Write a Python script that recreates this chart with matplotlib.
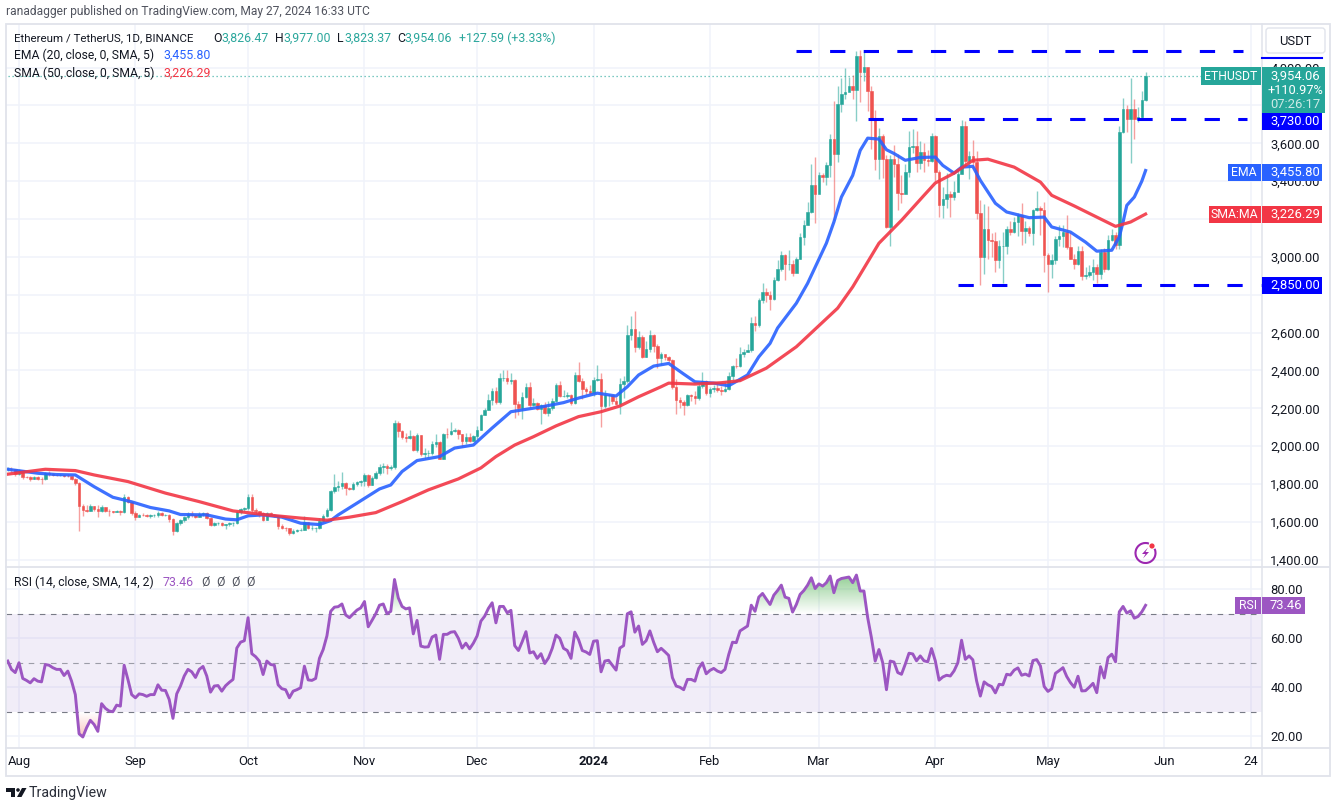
import numpy as np
import pandas as pd
import matplotlib
matplotlib.use("Agg")
import matplotlib.pyplot as plt
from matplotlib.patches import Rectangle, Circle, Polygon, Arc

W, H = 1337, 809
plt.rcParams["font.family"] = ["Roboto", "DejaVu Sans"]

# daily closes / highs / lows, one line per month (Jul 29 2023 -> May 27 2024)
closes = [
    1882, 1878, 1855,
    1873, 1838, 1836, 1827, 1836, 1825, 1824, 1856, 1851, 1850, 1848, 1848, 1842, 1840, 1827, 1806, 1684, 1662, 1660, 1683, 1668, 1656, 1680, 1660, 1656, 1650, 1657, 1650, 1729, 1705, 1645,
    1628, 1637, 1636, 1629, 1635, 1635, 1646, 1636, 1636, 1617, 1551, 1593, 1608, 1626, 1641, 1637, 1625, 1640, 1645, 1622, 1585, 1593, 1593, 1582, 1588, 1595, 1595, 1652, 1667, 1671,
    1733, 1663, 1656, 1647, 1611, 1648, 1633, 1633, 1580, 1567, 1566, 1539, 1552, 1555, 1557, 1600, 1566, 1566, 1566, 1604, 1630, 1665, 1765, 1785, 1788, 1803, 1778, 1775, 1800, 1810, 1815,
    1846, 1795, 1832, 1857, 1890, 1897, 1886, 1890, 2120, 2078, 2050, 2045, 2055, 1980, 2060, 1961, 1962, 1963, 2012, 2020, 1930, 2063, 2062, 2080, 2085, 2063, 2027, 2050, 2028, 2052,
    2087, 2165, 2193, 2243, 2293, 2232, 2358, 2358, 2343, 2352, 2225, 2203, 2260, 2315, 2220, 2227, 2196, 2218, 2177, 2200, 2240, 2325, 2265, 2265, 2272, 2230, 2378, 2345, 2300, 2292, 2281,
    2352, 2355, 2210, 2268, 2269, 2240, 2221, 2330, 2344, 2585, 2618, 2523, 2577, 2472, 2511, 2587, 2528, 2467, 2489, 2470, 2453, 2315, 2243, 2234, 2217, 2268, 2266, 2257, 2317, 2345, 2283,
    2304, 2309, 2297, 2290, 2300, 2373, 2425, 2421, 2487, 2500, 2507, 2651, 2640, 2771, 2815, 2797, 2780, 2877, 2938, 3008, 2960, 2964, 2915, 2987, 3105, 3167, 3237, 3377, 3330,
    3430, 3420, 3483, 3620, 3545, 3808, 3861, 3870, 3900, 3879, 4063, 3975, 4001, 3875, 3734, 3518, 3641, 3518, 3158, 3515, 3492, 3336, 3330, 3448, 3580, 3587, 3495, 3555, 3510, 3508, 3641,
    3450, 3272, 3307, 3330, 3318, 3345, 3440, 3689, 3505, 3535, 3500, 3232, 3000, 3145, 3087, 3084, 2982, 3057, 3057, 3149, 3131, 3184, 3220, 3135, 3150, 3125, 3245, 3258, 3245, 3008,
    2960, 2982, 3096, 3108, 3131, 3052, 2991, 2961, 3031, 2899, 2906, 2920, 2947, 2912, 3026, 2938, 3087, 3114, 3061, 3659, 3782, 3729, 3782, 3729, 3741, 3826, 3954,
]
highs = [
    1890, 1890, 1882,
    1880, 1875, 1845, 1845, 1845, 1840, 1835, 1865, 1870, 1860, 1855, 1855, 1850, 1855, 1845, 1830, 1810, 1695, 1690, 1695, 1685, 1690, 1690, 1680, 1670, 1660, 1665, 1665, 1745, 1735, 1710,
    1655, 1640, 1645, 1640, 1640, 1640, 1660, 1650, 1640, 1640, 1620, 1600, 1615, 1630, 1650, 1655, 1640, 1650, 1650, 1650, 1625, 1600, 1600, 1600, 1590, 1600, 1600, 1660, 1675, 1680,
    1745, 1745, 1675, 1660, 1650, 1650, 1650, 1640, 1635, 1590, 1575, 1570, 1565, 1565, 1570, 1630, 1600, 1585, 1575, 1620, 1640, 1675, 1770, 1855, 1815, 1865, 1810, 1785, 1810, 1815, 1820,
    1860, 1855, 1840, 1870, 1905, 1910, 1905, 1900, 2140, 2135, 2085, 2070, 2085, 2060, 2070, 2060, 1990, 1980, 2025, 2065, 2025, 2070, 2095, 2130, 2095, 2090, 2065, 2070, 2070, 2060,
    2105, 2170, 2200, 2275, 2305, 2310, 2385, 2400, 2400, 2385, 2355, 2240, 2285, 2335, 2340, 2255, 2235, 2225, 2235, 2240, 2255, 2335, 2345, 2295, 2285, 2275, 2390, 2445, 2360, 2310, 2325,
    2365, 2430, 2385, 2295, 2275, 2250, 2260, 2360, 2370, 2640, 2690, 2715, 2610, 2585, 2555, 2615, 2590, 2540, 2500, 2480, 2475, 2460, 2355, 2260, 2245, 2275, 2275, 2290, 2330, 2390, 2350,
    2310, 2325, 2335, 2320, 2340, 2390, 2430, 2465, 2525, 2515, 2540, 2680, 2685, 2785, 2860, 2835, 2820, 2895, 2985, 3030, 3015, 3035, 2985, 3000, 3125, 3195, 3290, 3490, 3525,
    3450, 3445, 3500, 3650, 3825, 3900, 3945, 4000, 3950, 3960, 4085, 4095, 4083, 3985, 3900, 3775, 3680, 3650, 3540, 3540, 3590, 3545, 3435, 3490, 3665, 3675, 3665, 3610, 3600, 3565, 3655,
    3645, 3460, 3370, 3445, 3350, 3400, 3460, 3725, 3720, 3560, 3615, 3560, 3300, 3280, 3270, 3125, 3130, 3090, 3130, 3165, 3190, 3210, 3230, 3285, 3190, 3165, 3255, 3350, 3270, 3290,
    3020, 3015, 3110, 3170, 3170, 3220, 3130, 3015, 3055, 3055, 2945, 2955, 2990, 2960, 3040, 3045, 3115, 3145, 3130, 3690, 3840, 3800, 3945, 3835, 3790, 3875, 3977,
]
lows = [
    1870, 1865, 1845,
    1850, 1825, 1830, 1815, 1825, 1820, 1800, 1820, 1845, 1845, 1845, 1845, 1838, 1835, 1820, 1795, 1550, 1630, 1650, 1660, 1655, 1625, 1650, 1650, 1630, 1648, 1650, 1635, 1645, 1700, 1635,
    1610, 1625, 1630, 1625, 1620, 1625, 1625, 1630, 1632, 1600, 1530, 1545, 1585, 1600, 1615, 1625, 1620, 1625, 1630, 1615, 1580, 1580, 1585, 1578, 1562, 1580, 1580, 1590, 1640, 1660,
    1665, 1650, 1640, 1625, 1605, 1610, 1630, 1625, 1560, 1565, 1550, 1530, 1535, 1548, 1550, 1555, 1560, 1555, 1545, 1565, 1600, 1625, 1655, 1750, 1765, 1775, 1740, 1770, 1770, 1790, 1790,
    1790, 1785, 1795, 1825, 1850, 1860, 1855, 1875, 1880, 2050, 2040, 2020, 2040, 1975, 1970, 1950, 1930, 1940, 1955, 1995, 1930, 1930, 2045, 2060, 2075, 2040, 1995, 2010, 2020, 2025,
    2040, 2085, 2165, 2190, 2220, 2225, 2225, 2345, 2330, 2330, 2150, 2165, 2145, 2255, 2200, 2210, 2190, 2115, 2170, 2160, 2190, 2235, 2260, 2260, 2255, 2220, 2225, 2340, 2250, 2270, 2270,
    2265, 2345, 2100, 2200, 2210, 2225, 2220, 2170, 2255, 2335, 2560, 2500, 2515, 2465, 2470, 2495, 2500, 2415, 2430, 2455, 2445, 2300, 2170, 2200, 2165, 2210, 2240, 2225, 2245, 2305, 2270,
    2260, 2285, 2285, 2270, 2285, 2295, 2350, 2415, 2420, 2470, 2495, 2495, 2610, 2630, 2755, 2760, 2720, 2770, 2870, 2925, 2880, 2930, 2900, 2920, 2990, 3060, 3170, 3230, 3180,
    3340, 3395, 3380, 3420, 3195, 3500, 3765, 3835, 3880, 3835, 3720, 3820, 3930, 3770, 3570, 3460, 3410, 3415, 3150, 3055, 3420, 3250, 3285, 3360, 3420, 3550, 3450, 3465, 3450, 3480, 3500,
    3400, 3210, 3205, 3260, 3210, 3300, 3380, 3440, 3480, 3410, 3470, 3200, 2850, 2910, 2990, 3000, 2920, 2940, 2860, 3015, 3115, 3125, 3110, 3060, 3075, 3110, 3065, 3240, 3115, 2920,
    2815, 2890, 2960, 3055, 3050, 3040, 2990, 2935, 2955, 2880, 2885, 2895, 2880, 2860, 2885, 2920, 2930, 3085, 3040, 3040, 3655, 3660, 3495, 3625, 3710, 3725, 3823,
]

# moving averages, read every few bars (day number counted from Aug 1 2023)
ema_days = [-3, 5, 10, 15, 20, 25, 30, 35, 40, 43, 50, 55, 58, 61, 65, 70, 75, 80, 83, 85, 90, 96, 99, 102, 106, 112, 116, 121, 126, 131, 139, 145, 149, 154, 159, 162, 165, 169, 173, 177, 180, 185, 189, 194, 197, 200, 202, 207, 210, 215, 217, 219, 222, 224, 226, 229, 231, 233, 236, 240, 244, 246, 249, 251, 254, 256, 260, 263, 269, 273, 275, 280, 284, 287, 291, 293, 294, 295, 297, 299, 300]
ema_vals = [1878, 1857, 1850, 1848, 1786, 1730, 1706, 1676, 1658, 1639, 1637, 1615, 1611, 1632, 1637, 1625, 1593, 1586, 1607, 1637, 1699, 1774, 1795, 1866, 1924, 1945, 1990, 2006, 2096, 2182, 2207, 2230, 2254, 2280, 2265, 2314, 2376, 2423, 2437, 2381, 2340, 2333, 2319, 2376, 2472, 2543, 2624, 2755, 2860, 3072, 3184, 3316, 3430, 3562, 3627, 3622, 3566, 3546, 3510, 3525, 3527, 3483, 3442, 3474, 3478, 3404, 3283, 3237, 3207, 3210, 3158, 3131, 3078, 3030, 3035, 3105, 3184, 3272, 3316, 3400, 3456]
sma_days = [-3, 7, 15, 20, 29, 39, 48, 57, 66, 75, 82, 88, 95, 102, 109, 117, 123, 127, 132, 137, 143, 149, 155, 160, 165, 171, 173, 180, 187, 192, 199, 207, 218, 222, 226, 229, 235, 241, 244, 249, 254, 258, 265, 272, 275, 281, 287, 292, 296, 300]
sma_vals = [1852, 1878, 1871, 1848, 1813, 1752, 1707, 1658, 1637, 1620, 1609, 1625, 1649, 1707, 1769, 1827, 1885, 1945, 2006, 2050, 2107, 2156, 2182, 2212, 2261, 2314, 2333, 2328, 2335, 2346, 2412, 2525, 2729, 2841, 2973, 3072, 3193, 3325, 3390, 3442, 3510, 3516, 3474, 3395, 3325, 3269, 3210, 3161, 3184, 3226]

# RSI(14), one value per bar
rsi_a = [50.7, 47.3, 46, 50, 43.6, 42.8, 41.8, 43.5, 42.5, 42.2, 49.3, 49, 48, 47.3, 47.3, 44.8, 46.6, 42.5, 37, 21, 19.7, 23.5, 26.5, 24.8, 22, 33.3, 31.4, 30.3, 30, 32.7, 32.3, 49, 43.2, 37, 35.7, 37.3, 37, 36.3, 37, 37, 41, 38.8, 38.7, 35, 27.3, 37.3, 40.5, 44.6, 47.3, 46.3, 44, 47.3, 48.5, 44.6, 38, 40.5, 40.7, 38.4, 40.6, 42, 43.2, 56, 58.4, 59, 68.4, 53.7, 52.5, 50.7, 45.2, 50.7, 49.3, 49, 41, 39.4, 39, 35.7, 38.4, 39, 39.8, 48.6, 43, 42.8, 43.6, 51.8, 55.4, 61, 71, 72.7, 72.9, 74, 69.5, 68.4, 70, 71.5, 72.4, 75, 64.7, 67.3, 70, 73.5, 74, 70, 71, 84, 76.5, 73, 72, 72.4, 61.8, 67.3, 56.8, 56.4, 56.5, 60.5, 61.3, 51.4, 61.6, 61.6]
rsi_b = [62.5, 62.7, 60, 56, 58, 55.7, 58, 61, 67, 69, 72.2, 74.5, 66.3, 73, 73, 70.4, 71.4, 57, 55, 58.6, 62.7, 54, 54.5, 51.8, 53.7, 49.7, 52, 55.9, 61.3, 60, 55.9, 55, 51.8, 62.5, 59.5, 55, 54.4, 53.4, 58.8, 59, 46.3, 50.7, 51, 49, 47, 56, 57, 70, 70.8, 62.5, 65, 57.5, 59, 63, 58.4, 54.5, 55.9, 54.5, 53, 43.9, 40.5, 40, 39, 43.2, 43.2, 42.5, 47.7, 50, 45.5, 46.9, 47.7, 46.6, 46, 47.3, 53.4, 58.4, 58.2, 63, 64, 65, 73.5, 71, 76.8, 78.3, 76, 73.8, 77.6, 79.5, 81.7, 76.8, 76.3, 70.7, 73.8, 77.9, 79.5, 81.7, 84.7, 80.3, 82.2, 81.3, 82.7, 85.4, 78.6, 83.6, 84.4, 84.7, 85, 82.7, 85.8, 79.3, 79.3, 68.4, 60.2, 50.7, 55.4, 50, 39, 50.7, 50.3, 46]
rsi_c = [45.3, 49.4, 53.9, 53.6, 50.8, 52.8, 50.8, 50.4, 55.8, 50.8, 42.9, 44.2, 44.9, 44.6, 46.7, 50, 59.2, 51.4, 52.8, 51.2, 42.6, 36.4, 42.2, 41, 40.3, 37.7, 41.2, 41, 45.3, 45, 47, 47.9, 44.9, 45.4, 44.6, 50.9, 51.3, 48.7, 40.3, 38.3, 39.4, 45.7, 46.8, 48, 44.4, 41.9, 40, 44.5, 38.5, 38.6, 40, 41.6, 37.8, 48.4, 43.8, 52.1, 53.5, 50.4, 70.8, 73, 70.3, 71.2, 68.2, 68.9, 70.8, 73.46]

price_ticks = [1400, 1600, 1800, 2000, 2200, 2400, 2600, 2800, 3000, 3200, 3400, 3600, 3800, 4000]
# these three sit behind the price tags in the reference
hidden_ticks = [2800, 3200, 3800]
rsi_ticks = [20, 40, 60, 80]
time_ticks = ["2023-08-01", "2023-09-01", "2023-10-01", "2023-11-01", "2023-12-01", "2024-01-01", "2024-02-01", "2024-03-01", "2024-04-01", "2024-05-01", "2024-06-01", "2024-06-24"]
time_labels = ["Aug", "Sep", "Oct", "Nov", "Dec", "2024", "Feb", "Mar", "Apr", "May", "Jun", "24"]
levels = [(4090, 207, 326), (3730, 226, 327), (2850, 250, 331)]

TEAL = "#26a69a"
RED = "#ef5350"
TXT = "#131722"
GRID = "#f0f3fa"
EDGE = "#e0e3eb"
RSI_COL = "#9c56c2"

closes = np.array(closes, float)
highs = np.array(highs, float)
lows = np.array(lows, float)
rsi = np.array(rsi_a + rsi_b + rsi_c)
opens = np.r_[1878.0, closes[:-1]]
days = np.arange(len(closes)) - 3
tick_days = [(pd.Timestamp(t) - pd.Timestamp("2023-08-01")).days for t in time_ticks]
up = closes >= opens

fig = plt.figure(figsize=(W / 100, H / 100), dpi=100, facecolor="white")


def pane(top, bottom):
    return fig.add_axes([6 / W, 1 - bottom / H, (1262 - 6) / W, (bottom - top) / H])


ax = pane(24, 566)
ax2 = pane(567, 748)

for x in (ax, ax2):
    x.set_xlim(-3.46, 331)
    x.set_xticks(tick_days)
    x.grid(True, color=GRID, lw=1.1)
    x.set_axisbelow(True)
    x.yaxis.tick_right()
    x.tick_params(length=0, labelsize=9.4, labelcolor=TXT)
    for s in x.spines.values():
        s.set_visible(False)

# price pane
ax.set_ylim(1367, 4230)
ax.set_yticks(price_ticks)
ax.set_yticklabels(["" if v in hidden_ticks else f"{v:,.2f}" for v in price_ticks])
ax.tick_params(axis="y", pad=6)
ax.tick_params(axis="x", labelbottom=False)

colors = np.where(up, TEAL, RED)
ax.vlines(days, lows, highs, colors=colors, lw=1.0, alpha=0.55, zorder=3)
ax.bar(days, np.abs(closes - opens), bottom=np.minimum(opens, closes), width=0.68,
       color=colors, edgecolor=colors, lw=0.4, zorder=4)
ax.plot(ema_days, ema_vals, color="#2962ff", lw=2.3, alpha=0.9, zorder=5)
ax.plot(sma_days, sma_vals, color="#f23645", lw=2.3, alpha=0.9, zorder=6)
ax.plot([days[0], days[-1] + 15], [closes[-1], closes[-1]], color=TEAL, lw=0.9, ls=(0, (1, 2.2)), alpha=0.8, zorder=2.5)
for price, start, end in levels:
    ax.plot([start, end], [price, price], color="#0000ff", lw=2.2, dashes=(5, 6), dash_capstyle="butt", zorder=7)

# rsi pane
ax2.set_ylim(15.2, 89.1)
ax2.set_yticks(rsi_ticks)
ax2.set_yticklabels([f"{v:.2f}" for v in rsi_ticks])
ax2.tick_params(axis="y", pad=6)
ax2.set_xticklabels(time_labels)
ax2.tick_params(axis="x", pad=5)
ax2.get_xticklabels()[5].set_fontweight("bold")
ax2.axhspan(30, 70, color="#7e57c2", alpha=0.1, lw=0, zorder=1)
for lvl, a in ((70, 1), (50, 0.7), (30, 1)):
    ax2.axhline(lvl, color="#787b86", lw=0.8, dashes=(5, 5), alpha=a, zorder=2)

n = 64
fade = np.linspace(0, 1, n).reshape(-1, 1)
g_img = np.dstack([np.full((n, 1), 0.30), np.full((n, 1), 0.69), np.full((n, 1), 0.31), fade * 0.62])
r_img = np.dstack([np.full((n, 1), 0.95), np.full((n, 1), 0.35), np.full((n, 1), 0.30), fade[::-1] * 0.38])
g_poly = ax2.fill_between(days, 70, np.maximum(rsi, 70), color="none", lw=0)
r_poly = ax2.fill_between(days, np.minimum(rsi, 30), 30, color="none", lw=0)
for img, ext, poly in ((g_img, [-3, 300, 70, 86], g_poly), (r_img, [-3, 300, 19, 30], r_poly)):
    im = ax2.imshow(img, extent=ext, origin="lower", aspect="auto", zorder=2.5)
    im.set_clip_path(poly.get_paths()[0], ax2.transData)
ax2.set_xlim(-3.46, 331)
ax2.set_ylim(15.2, 89.1)
ax2.plot(days, rsi, color=RSI_COL, lw=2.1, zorder=4, solid_joinstyle="round")

# overlay in screen pixels for the TradingView furniture
ov = fig.add_axes([0, 0, 1, 1], zorder=20)
ov.set_xlim(0, W)
ov.set_ylim(H, 0)
ov.axis("off")
ov.patch.set_alpha(0)
ov.add_patch(Rectangle((5.5, 23.5), 1324, 752, fill=False, ec=EDGE, lw=1.3))
ov.plot([6, 1329], [566.5, 566.5], color=EDGE, lw=1.3)
ov.plot([6, 1329], [748, 748], color=EDGE, lw=1.3)
ov.plot([1262, 1262], [24, 775], color=EDGE, lw=1.1)


def py(axis, v):
    return H - axis.transData.transform((0, v))[1]


def tag(axis, value, text, x0=1262, x1=1322, h=17, color=TEAL, left=None, left_x=None, dy=0):
    y = py(axis, value) + dy
    ov.add_patch(Rectangle((x0, y - h / 2), x1 - x0, h, fc=color, ec="none", zorder=3))
    ov.text(x0 + 8, y, text, color="white", fontsize=9.4, va="center", ha="left", zorder=4)
    if left:
        ov.add_patch(Rectangle((left_x, y - h / 2), 1260.5 - left_x, h, fc=color, ec="none", zorder=3))
        ov.text((left_x + 1260.5) / 2, y, left, color="white", fontsize=8.8, va="center", ha="center", zorder=4)


# last price block has three rows
y_last = py(ax, closes[-1])
ov.add_patch(Rectangle((1262, y_last - 9), 63, 46, fc=TEAL, ec="none", zorder=3))
ov.add_patch(Rectangle((1201, y_last - 9), 59.5, 18, fc=TEAL, ec="none", zorder=3))
ov.text(1230.5, y_last, "ETHUSDT", color="white", fontsize=8.8, va="center", ha="center", zorder=4)
ov.text(1270, y_last, "3,954.06", color="white", fontsize=9.4, va="center", zorder=4)
ov.text(1268, y_last + 14, "+110.97%", color="white", fontsize=9.2, va="center", zorder=4)
ov.text(1270, y_last + 28, "07:26:17", color="#cdeae6", fontsize=9.4, va="center", zorder=4)

tag(ax, 3730, "3,730.00", color="#0000ff", dy=2.5)
tag(ax, 2850, "2,850.00", color="#0000ff", dy=0.5)
tag(ax, 3455.8, "3,455.80", color="#2962ff", left="EMA", left_x=1228, dy=1.5)
tag(ax, 3226.29, "3,226.29", color="#f23645", left="SMA:MA", left_x=1209, dy=0.5)
tag(ax2, 73.46, "73.46", x1=1305, color=RSI_COL, left="RSI", left_x=1235)
ov.plot([1262, 1322], [58, 58], color="#0000ff", lw=1.5)

ov.add_patch(matplotlib.patches.FancyBboxPatch((1266, 28), 59, 25, boxstyle="round,pad=0,rounding_size=3",
                                               fc="white", ec=EDGE, lw=1, zorder=3))
ov.text(1295, 41, "USDT", color=TXT, fontsize=9.4, ha="center", va="center", zorder=4)

# header + legends
ov.text(6, 11.5, "ranadagger published on TradingView.com, May 27, 2024 16:33 UTC", color="#50535e", fontsize=8.67, va="center")


def legend_row(y, parts):
    for x, s, c, size in parts:
        ov.text(x, y, s, color=c, fontsize=size, va="center", ha="left")


G = "#2ba79c"
legend_row(38, [(14, "Ethereum / TetherUS, 1D, BINANCE", TXT, 8.25), (213, "O", TXT, 8.8), (221, "3,826.47", G, 8.9), (275, "H", TXT, 8.8), (283, "3,977.00", G, 8.9),
                (337, "L", TXT, 8.8), (344, "3,823.37", G, 8.9), (397, "C", TXT, 8.8), (404, "3,954.06", G, 8.9), (459, "+127.59 (+3.33%)", G, 8.9)])
legend_row(55, [(14, "EMA (20, close, 0, SMA, 5)", TXT, 8.7), (163, "3,455.80", "#2962ff", 8.9)])
legend_row(73, [(14, "SMA (50, close, 0, SMA, 5)", TXT, 8.7), (163, "3,226.29", "#f23645", 8.9)])
legend_row(582, [(14, "RSI (14, close, SMA, 14, 2)", TXT, 8.7), (163, "73.46", RSI_COL, 8.9), (201, "Ø", "#50535e", 8.9), (216, "Ø", "#50535e", 8.9), (231, "Ø", "#50535e", 8.9), (246, "Ø", "#50535e", 8.9)])

# footer logo
ov.add_patch(Polygon([(6, 788), (15, 788), (15, 797), (11, 797), (11, 791.5), (6, 791.5)], fc=TXT, ec="none"))
ov.add_patch(Circle((18, 790), 1.8, fc=TXT, ec="none"))
ov.add_patch(Polygon([(22, 788), (26.5, 788), (21.5, 797), (17, 797)], fc=TXT, ec="none"))
ov.text(29, 793.5, "TradingView", color="#2a2e39", fontsize=10.2, va="center")

# lightning icon above rsi pane
ov.add_patch(Arc((1145.5, 553), 20, 20, theta1=-25, theta2=290, ec="#9c27b0", lw=1.5))
ov.add_patch(Polygon([(1148, 547.5), (1142, 554), (1145.5, 554), (1143, 558.5), (1149, 552), (1145.5, 552)], fc="#9c27b0", ec="none"))
ov.add_patch(Circle((1152, 546), 2.6, fc="#f23645", ec="none"))

fig.savefig("out.png", dpi=100)
